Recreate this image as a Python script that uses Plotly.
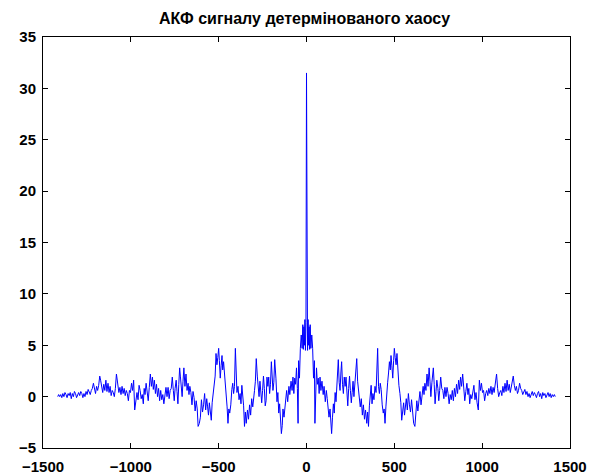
import plotly.graph_objects as go

# Positive-lag half of the autocorrelation; the ACF is symmetric
pos_lags = [0, 3, 6, 9, 12, 15, 18, 21, 25, 30, 35, 40, 45, 48, 52, 57, 62, 67, 72, 77, 82, 88, 95, 100,
            107, 113, 118, 123, 128, 134, 138, 143, 148, 153, 158, 163, 168, 174, 181, 186, 191, 196, 200,
            205, 210, 215, 220, 225, 230, 235, 240, 245, 250, 255, 260, 265, 270, 275, 280, 286, 291, 296,
            301, 306, 312, 318, 324, 330, 336, 343, 348, 353, 358, 363, 368, 373, 378, 384, 390, 396, 401,
            405, 410, 415, 420, 425, 431, 437, 442, 447, 452, 457, 462, 467, 472, 477, 481, 486, 491, 496,
            500, 505, 510, 515, 520, 526, 532, 537, 542, 547, 553, 558, 563, 568, 574, 580, 586, 592, 598,
            604, 610, 617, 622, 628, 634, 640, 646, 652, 658, 664, 669, 674, 680, 686, 692, 698, 703, 708,
            714, 718, 722, 727, 732, 737, 742, 748, 753, 758, 764, 770, 776, 782, 788, 794, 800, 806, 812,
            818, 824, 830, 836, 842, 848, 854, 860, 866, 872, 877, 883, 889, 895, 901, 907, 913, 919, 924,
            929, 935, 941, 947, 953, 959, 965, 971, 978, 984, 990, 996, 1002, 1008, 1014, 1020, 1026, 1032,
            1038, 1044, 1050, 1056, 1062, 1068, 1076, 1082, 1088, 1094, 1100, 1106, 1112, 1118, 1124, 1130,
            1136, 1142, 1148, 1154, 1160, 1166, 1172, 1177, 1183, 1189, 1195, 1201, 1207, 1213, 1219, 1225,
            1231, 1237, 1243, 1249, 1255, 1261, 1267, 1273, 1279, 1285, 1291, 1297, 1303, 1309, 1315, 1321,
            1327, 1333, 1339, 1345, 1351, 1357, 1363, 1369, 1375, 1381, 1387, 1393, 1399, 1405, 1411, 1416]
pos_vals = [31.5, 7.2, 4.5, 7.5, 5.0, 6.8, 4.6, 7.0, 4.7, 6.0, 4.7, 1.8, 3.5, -2.6, 0.8, 2.8, 1.2, 1.8,
            0.3, 1.9, 0.6, 1.5, 0.2, 1.0, -0.5, 0.6, -0.2, -1.0, -2.0, -1.2, -2.8, -3.6, -2.0, -0.7, -1.6,
            0.4, -0.5, 1.8, 3.6, 1.4, 0.6, 2.4, 3.4, 1.2, 0.3, 1.9, 1.0, 1.9, -0.4, -0.9, 0.8, 2.0, 0.6,
            -0.6, 0.4, 1.5, 0.0, 1.2, 2.0, 3.7, 1.5, 0.6, -0.4, -1.0, -0.2, -1.8, -0.8, -2.2, -1.3, -2.6,
            -1.5, -2.9, -0.9, 0.2, 1.1, -0.7, 0.3, -0.3, 1.0, 0.4, 2.2, 4.7, 1.0, 0.3, 1.3, 0.7, -0.8,
            -1.6, -1.2, -2.6, -1.0, 0.6, 1.4, 2.3, 3.4, 2.6, 4.0, 3.0, 1.8, 3.5, 4.7, 3.8, 3.1, 4.2, 2.0,
            1.1, 0.3, -0.6, -2.3, -1.4, -0.6, -1.8, -1.0, -0.2, -1.3, 0.3, -0.8, -1.5, -0.3, -2.0, -2.6,
            -2.9, -1.2, -0.4, -1.4, -0.1, 0.5, -0.8, 0.4, 1.0, 0.2, 1.3, 0.6, 2.2, 1.0, 2.8, 1.5, 0.0, 1.4,
            2.0, 2.8, 1.2, -0.7, 0.5, 1.6, 0.8, -0.4, 0.6, 1.9, 0.8, 0.6, -0.2, 0.9, 0.0, 0.9, 0.3, -0.7,
            0.2, -0.3, 0.6, -0.4, 0.8, 0.0, 1.2, 0.3, 1.6, 0.7, 1.9, 1.0, 2.2, 0.9, -0.4, 0.5, 1.3, 0.2,
            0.8, -0.7, 0.2, -0.2, 0.6, 1.1, -0.3, 0.4, -0.6, -1.3, 1.6, 0.6, 1.3, 0.4, 0.6, -0.4, 0.3, 0.6,
            0.1, 0.8, 0.3, 1.0, 0.2, 0.9, 0.4, 1.3, 2.2, 0.8, 0.0, 0.4, 0.6, 0.1, 1.0, 0.4, 1.3, 0.5, 1.6,
            0.6, 1.2, 0.4, 1.0, 1.6, 2.0, 1.1, 0.6, 1.0, 0.3, 0.6, 1.3, 0.8, 0.6, 0.2, 0.5, 0.7, 0.2, 0.5,
            0.0, 0.3, -0.1, 0.3, 0.5, 0.1, 0.4, 0.2, -0.1, 0.3, 0.5, 0.0, 0.3, -0.2, 0.4, 0.1, 0.3, -0.1,
            0.2, 0.4, 0.0, 0.3, -0.1, 0.2, 0.0, 0.2, 0.0]

lags = [-l for l in reversed(pos_lags[1:])] + pos_lags
vals = list(reversed(pos_vals[1:])) + pos_vals

x_ticks = [-1500, -1000, -500, 0, 500, 1000, 1500]
y_ticks = [-5, 0, 5, 10, 15, 20, 25, 30, 35]
title_text = "АКФ сигналу детермінованого хаосу"

fig = go.Figure(go.Scatter(x=lags, y=vals, mode="lines",
                           line=dict(color="#0000ff", width=1)))

axis_common = dict(showgrid=False, zeroline=False, showline=True, mirror="ticks",
                   linecolor="black", linewidth=1, ticks="inside", ticklen=5,
                   tickcolor="black", automargin=False,
                   tickfont=dict(family="Liberation Sans, Arial", size=15, color="black",
                                 weight="bold"))

fig.update_layout(
    width=603, height=475,
    margin=dict(l=43, r=33, t=37, b=27),
    paper_bgcolor="white", plot_bgcolor="white",
    showlegend=False,
    title=dict(text=title_text, x=0.505, xanchor="center", y=0.962, yanchor="middle",
               font=dict(family="Liberation Sans, Arial", size=16, color="black", weight="bold")),
    xaxis=dict(range=[-1500, 1500], tickvals=x_ticks, ticklabelstandoff=5, **axis_common),
    yaxis=dict(range=[-5, 35], tickvals=y_ticks, ticklabelstandoff=3, **axis_common),
)

fig.write_html("out.html")
